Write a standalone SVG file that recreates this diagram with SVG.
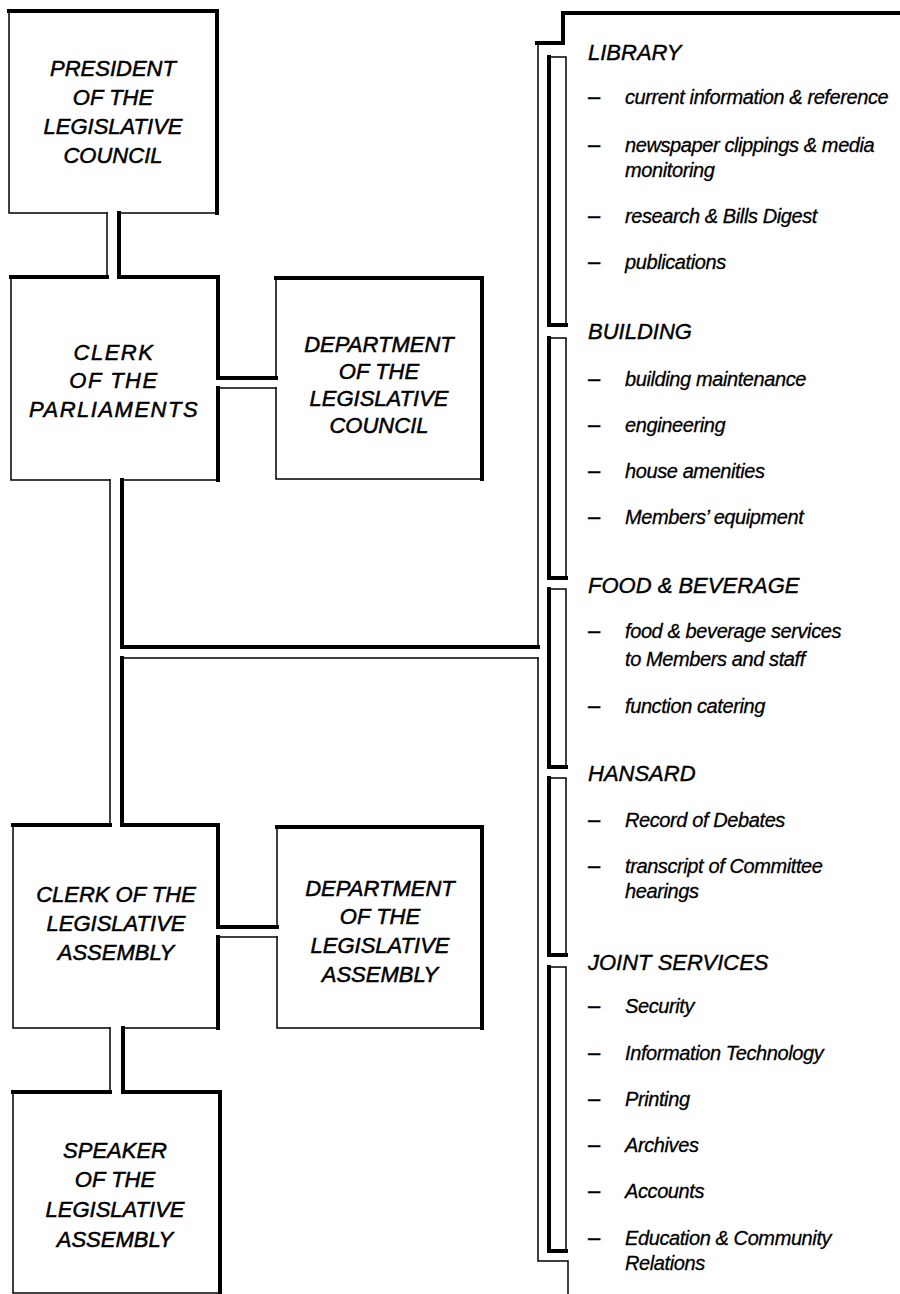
<svg xmlns="http://www.w3.org/2000/svg" width="900" height="1294" viewBox="0 0 900 1294">
<style>
.thin{stroke:#000;stroke-width:1.5;fill:none;stroke-linecap:square}
.thick{stroke:#000;stroke-width:4;fill:none;stroke-linecap:square;stroke-linejoin:miter}
.bt{font-family:"Liberation Sans",Arial,sans-serif;font-style:italic;font-size:22px;fill:#000;stroke:#000;stroke-width:0.5;text-anchor:middle}
.sp{letter-spacing:1.5px}
.hd{font-family:"Liberation Sans",Arial,sans-serif;font-style:italic;font-size:22px;fill:#000;stroke:#000;stroke-width:0.4}
.it{font-family:"Liberation Sans",Arial,sans-serif;font-style:italic;font-size:20px;fill:#000;stroke:#000;stroke-width:0.3;letter-spacing:-0.4px}
.ds{font-family:"Liberation Sans",Arial,sans-serif;font-size:22px;fill:#000;stroke:#000;stroke-width:0.3}
</style>
<rect x="0" y="0" width="900" height="1294" fill="#fff"/>

<g id="president">
<path class="thin" d="M9,11 V213 H107 M119,213 H217"/>
<path class="thick" d="M9,11 H217 V213"/>
<text class="bt" x="113" y="76">PRESIDENT</text>
<text class="bt" x="113" y="105">OF THE</text>
<text class="bt" x="113" y="134">LEGISLATIVE</text>
<text class="bt" x="113" y="163">COUNCIL</text>
</g>

<g id="clerk-parliaments">
<path class="thin" d="M11,277 V480 H110 M122,480 H218"/>
<path class="thick" d="M11,277 H107 M119,277 H218 V378 M218,388 V480"/>
<text class="bt sp" x="114" y="360">CLERK</text>
<text class="bt sp" x="114" y="388">OF THE</text>
<text class="bt sp" x="114" y="417">PARLIAMENTS</text>
</g>

<g id="dept-council">
<path class="thin" d="M276,278 V378 M276,388 V479 H482"/>
<path class="thick" d="M276,278 H482 V479"/>
<text class="bt" x="379" y="352">DEPARTMENT</text>
<text class="bt" x="379" y="379">OF THE</text>
<text class="bt" x="379" y="406">LEGISLATIVE</text>
<text class="bt" x="379" y="433">COUNCIL</text>
</g>

<g id="clerk-assembly">
<path class="thin" d="M13,825 V1028 H110 M123,1028 H218"/>
<path class="thick" d="M13,825 H110 M122,825 H218 V927 M218,937 V1028"/>
<text class="bt" x="116" y="902">CLERK OF THE</text>
<text class="bt" x="116" y="931">LEGISLATIVE</text>
<text class="bt" x="116" y="960">ASSEMBLY</text>
</g>

<g id="dept-assembly">
<path class="thin" d="M277,827 V927 M277,937 V1028 H482"/>
<path class="thick" d="M277,827 H482 V1028"/>
<text class="bt" x="380" y="896">DEPARTMENT</text>
<text class="bt" x="380" y="924">OF THE</text>
<text class="bt" x="380" y="953">LEGISLATIVE</text>
<text class="bt" x="380" y="982">ASSEMBLY</text>
</g>

<g id="speaker">
<path class="thin" d="M13,1092 V1293 H220"/>
<path class="thick" d="M13,1092 H110 M123,1092 H220 V1294"/>
<text class="bt" x="115" y="1158">SPEAKER</text>
<text class="bt" x="115" y="1187">OF THE</text>
<text class="bt" x="115" y="1217">LEGISLATIVE</text>
<text class="bt" x="115" y="1247">ASSEMBLY</text>
</g>

<g id="connectors">
<path class="thin" d="M107,213 V277"/>
<path class="thick" d="M119,213 V277"/>
<path class="thick" d="M218,378 H276"/>
<path class="thin" d="M218,388 H276"/>
<path class="thin" d="M110,480 V825"/>
<path class="thick" d="M122,480 V647 H538"/>
<path class="thin" d="M122,658 H538"/>
<path class="thick" d="M122,658 V825"/>
<path class="thick" d="M218,927 H277"/>
<path class="thin" d="M218,937 H277"/>
<path class="thin" d="M110,1028 V1092"/>
<path class="thick" d="M123,1028 V1092"/>
</g>

<g id="services-frame">
<path class="thick" d="M537,43 H563 V13 H904"/>
<path class="thin" d="M538,43 V647 M538,658 V1261 H568 V1294"/>
</g>

<g id="library">
<path class="thin" d="M549,57 H566 V325"/>
<path class="thick" d="M549,57 V325 H566"/>
<text class="hd" x="588" y="60">LIBRARY</text>
<text class="ds" x="588" y="104">–</text><text class="it" x="625" y="104">current information &amp; reference</text>
<text class="ds" x="588" y="152">–</text><text class="it" x="625" y="152">newspaper clippings &amp; media</text>
<text class="it" x="625" y="177">monitoring</text>
<text class="ds" x="588" y="223">–</text><text class="it" x="625" y="223">research &amp; Bills Digest</text>
<text class="ds" x="588" y="269">–</text><text class="it" x="625" y="269">publications</text>
</g>

<g id="building">
<path class="thin" d="M549,338 H566 V578"/>
<path class="thick" d="M549,338 V578 H566"/>
<text class="hd" x="588" y="339">BUILDING</text>
<text class="ds" x="588" y="386">–</text><text class="it" x="625" y="386">building maintenance</text>
<text class="ds" x="588" y="432">–</text><text class="it" x="625" y="432">engineering</text>
<text class="ds" x="588" y="478">–</text><text class="it" x="625" y="478">house amenities</text>
<text class="ds" x="588" y="524">–</text><text class="it" x="625" y="524">Members’ equipment</text>
</g>

<g id="food-beverage">
<path class="thin" d="M549,589 H566 V767"/>
<path class="thick" d="M549,589 V767 H566"/>
<text class="hd" x="588" y="593">FOOD &amp; BEVERAGE</text>
<text class="ds" x="588" y="638">–</text><text class="it" x="625" y="638">food &amp; beverage services</text>
<text class="it" x="625" y="666">to Members and staff</text>
<text class="ds" x="588" y="713">–</text><text class="it" x="625" y="713">function catering</text>
</g>

<g id="hansard">
<path class="thin" d="M549,778 H566 V955"/>
<path class="thick" d="M549,778 V955 H566"/>
<text class="hd" x="588" y="781">HANSARD</text>
<text class="ds" x="588" y="827">–</text><text class="it" x="625" y="827">Record of Debates</text>
<text class="ds" x="588" y="873">–</text><text class="it" x="625" y="873">transcript of Committee</text>
<text class="it" x="625" y="898">hearings</text>
</g>

<g id="joint-services">
<path class="thin" d="M549,967 H566 V1251"/>
<path class="thick" d="M549,967 V1251 H566"/>
<text class="hd" x="588" y="970">JOINT SERVICES</text>
<text class="ds" x="588" y="1013">–</text><text class="it" x="625" y="1013">Security</text>
<text class="ds" x="588" y="1060">–</text><text class="it" x="625" y="1060">Information Technology</text>
<text class="ds" x="588" y="1106">–</text><text class="it" x="625" y="1106">Printing</text>
<text class="ds" x="588" y="1152">–</text><text class="it" x="625" y="1152">Archives</text>
<text class="ds" x="588" y="1198">–</text><text class="it" x="625" y="1198">Accounts</text>
<text class="ds" x="588" y="1245">–</text><text class="it" x="625" y="1245">Education &amp; Community</text>
<text class="it" x="625" y="1270">Relations</text>
</g>
</svg>
